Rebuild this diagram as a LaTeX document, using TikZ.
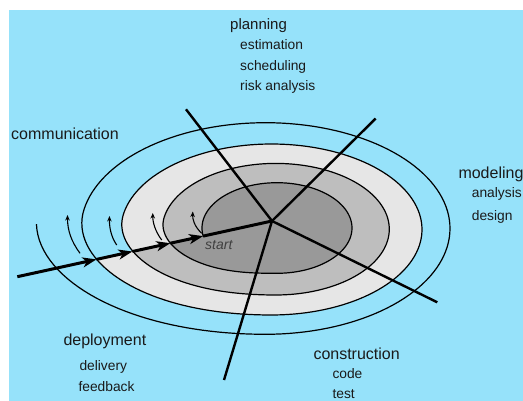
\documentclass[tikz,border=0pt]{standalone}
\usepackage{fontspec}
\setmainfont{Liberation Sans}
\usetikzlibrary{arrows.meta,calc}
\definecolor{bgblue}{RGB}{150,226,250}
\definecolor{ringA}{RGB}{230,230,230}
\definecolor{ringB}{RGB}{190,190,190}
\definecolor{ringC}{RGB}{153,153,153}
\definecolor{txt}{RGB}{26,26,26}
\begin{document}
\begin{tikzpicture}[x=1pt,y=-1pt,
  declare function={
    spss(\x,\y)=min(1,max(0,(\x-\y)/100));
    spsb(\x,\y)=spss(\x,\y)*spss(\x,\y)*(3-2*spss(\x,\y));
    spa(\x)=75+38.5*spsb(\x,450)+37*spsb(\x,810)+34*spsb(\x,1170)+39.5*spsb(\x,1530);
    spb(\x)=45.3+20.5*spsb(\x,450)+19.7*spsb(\x,810)+20.3*spsb(\x,1170)+20.2*spsb(\x,1530);
    spcx(\x)=277-1.2*spsb(\x,450)-4.3*spsb(\x,810)-6*spsb(\x,1170)-6*spsb(\x,1530);
    spcy(\x)=228+1.2*spsb(\x,450)+0.3*spsb(\x,810)-1*spsb(\x,1170);
    spx(\x)=spcx(\x)+spa(\x)*cos(\x);
    spy(\x)=spcy(\x)+spb(\x)*sin(\x);
  },
  spiral/.style={line width=1.2pt,black,line join=round},
  spoke/.style={line width=2.4pt,black},
  entry/.style={line width=3pt,black,-{Stealth[length=14pt,width=10pt,inset=4pt]}},
  smallarr/.style={line width=1.1pt,black,-{Stealth[length=5.5pt,width=4.5pt]}},
  lbl/.style={anchor=base west,inner sep=0pt,text=txt,font=\fontsize{16}{19}\selectfont},
  sublbl/.style={anchor=base west,inner sep=0pt,text=txt,font=\fontsize{13.8}{16}\selectfont}
]
\useasboundingbox (0,0) rectangle (523,401);
\fill[white] (0,0) rectangle (523,401);
\fill[bgblue] (9,10) rectangle (523,401);

% bands of the spiral
\fill[ringA] plot[domain=885:1242.6,samples=160,variable=\t] ({spx(\t)},{spy(\t)}) -- cycle;
\fill[ringB] plot[domain=527:885,samples=160,variable=\t] ({spx(\t)},{spy(\t)}) -- cycle;
\fill[ringC] plot[domain=169.8:527,samples=160,variable=\t] ({spx(\t)},{spy(\t)}) -- cycle;
\draw[spiral] plot[domain=169.8:1622,samples=600,variable=\t] ({spx(\t)},{spy(\t)});

% spokes
\coordinate (ctr) at (272,221);
\coordinate (ptl) at (186,109.3);
\coordinate (ptr) at (375.7,118.5);
\coordinate (pbr) at (437.3,302.3);
\coordinate (pbt) at (224,380);
\draw[spoke] (ctr) -- (ptl);
\draw[spoke] (ctr) -- (ptr);
\draw[spoke] (ctr) -- (pbr);
\draw[spoke] (ctr) -- (pbt);

% entry line with arrows
\coordinate (ein) at (17.3,276.7);
\coordinate (q1) at (96.5,259.4);
\coordinate (q2) at (132.4,251.5);
\coordinate (q3) at (170.4,243.2);
\coordinate (q4) at (203.1,236.1);
\draw[entry] (ein) -- (q1);
\draw[entry] (q1) -- (q2);
\draw[entry] (q2) -- (q3);
\draw[entry] (q3) -- (q4);
\draw[line width=3pt] (q4) -- (ctr);

% small curved arrows
\coordinate (s1a) at (80,253.3);   \coordinate (s1b) at (67.5,215);
\coordinate (s2a) at (116.7,245);  \coordinate (s2b) at (109.5,216);
\coordinate (s3a) at (161.7,240);  \coordinate (s3b) at (152.8,213);
\coordinate (s4a) at (201.7,233.3);\coordinate (s4b) at (192.8,211.5);
\draw[smallarr] (s1a) .. controls (71,241) and (67.5,230) .. (s1b);
\draw[smallarr] (s2a) .. controls (110.5,236) and (109.3,226) .. (s2b);
\draw[smallarr] (s3a) .. controls (155,231) and (152.7,222) .. (s3b);
\draw[smallarr] (s4a) .. controls (194,226) and (192.5,219) .. (s4b);

% labels
\node[lbl,font=\fontsize{15}{18}\selectfont] (plan) at (230,29.3) {planning};
\node[sublbl] (est) at (240,50) {estimation};
\node[sublbl] (sch) at (240,70.7) {scheduling};
\node[sublbl] (risk) at (240,90.7) {risk analysis};
\node[lbl] (comm) at (11,139.5) {communication};
\node[lbl] (mod) at (458.3,179) {modeling};
\node[sublbl] (ana) at (471.7,197.7) {analysis};
\node[sublbl] (des) at (471.7,220.5) {design};
\node[lbl] (dep) at (63.3,345) {deployment};
\node[sublbl] (del) at (79.3,370.7) {delivery};
\node[sublbl] (feed) at (78.3,391.7) {feedback};
\node[lbl] (cons) at (313.3,359.3) {construction};
\node[sublbl] (code) at (332.3,378.3) {code};
\node[sublbl] (test) at (332.3,398.3) {test};
\node[anchor=base west,inner sep=0pt,text=black!75,font=\fontsize{14}{16}\selectfont\itshape] (start) at (205,250) {start};
\end{tikzpicture}
\end{document}
